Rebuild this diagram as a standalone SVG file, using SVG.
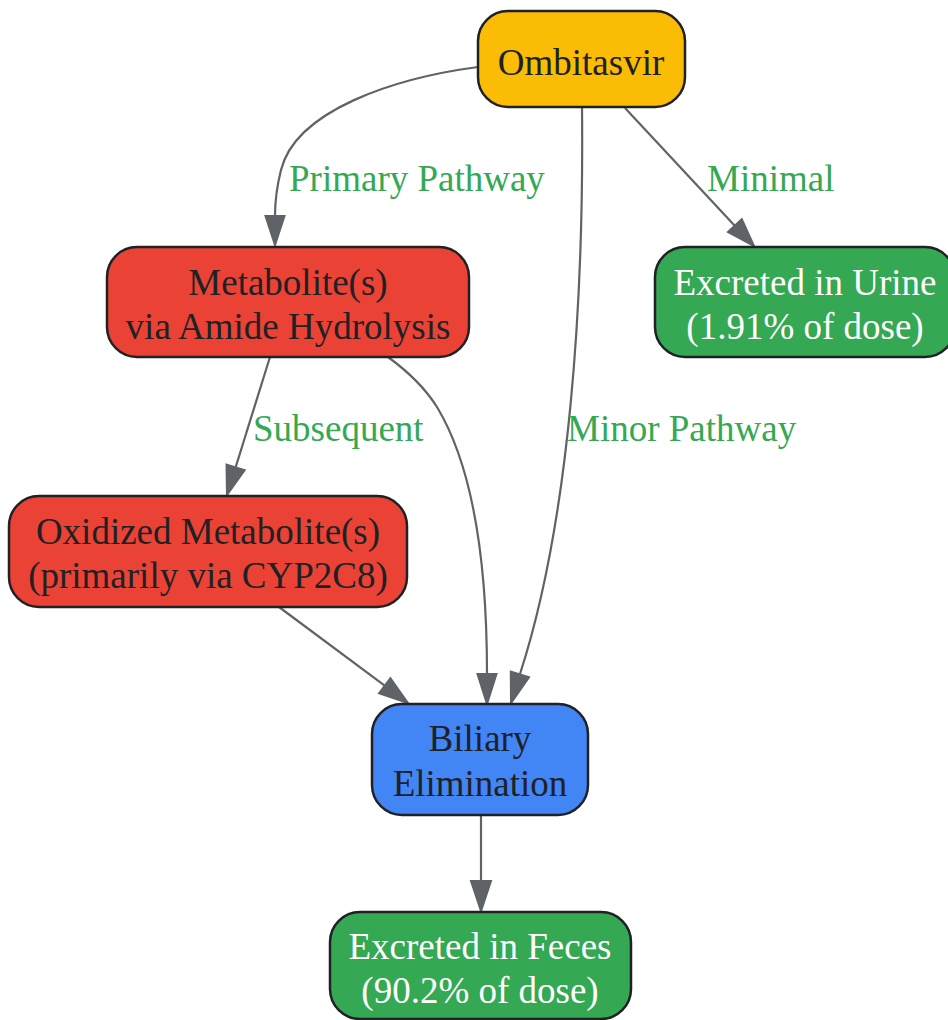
<svg xmlns="http://www.w3.org/2000/svg" width="948" height="1020" viewBox="0 0 948 1020">
<style>
.node rect{stroke:#202124;stroke-width:2.5}
.t{font-family:"Liberation Serif","Times New Roman",serif;font-size:37px;text-anchor:middle;fill:#202124}
.w{fill:#ffffff}
.lbl{font-family:"Liberation Serif","Times New Roman",serif;font-size:37px;fill:#34A853}
.edge path{fill:none;stroke:#5F6368;stroke-width:2.2}
.edge polygon{fill:#5F6368;stroke:#5F6368;stroke-width:2}
</style>
<rect width="948" height="1020" fill="#ffffff"/>
<g id="connectors">
  <g class="edge" id="e1">
    <path d="M478,67 C395,78 296,110 281,170 C276,190 275,203 275,216"/>
    <polygon points="265.5,216 284.5,216 275,245"/>
    <text class="lbl" x="289" y="191">Primary Pathway</text>
  </g>
  <g class="edge" id="e2">
    <path d="M625,108 L735,226"/>
    <polygon points="728,232 741.8,219.1 754,246"/>
    <text class="lbl" x="707" y="191">Minimal</text>
  </g>
  <g class="edge" id="e3">
    <path d="M582,107 C584,300 570,520 520,674"/>
    <polygon points="529,677.2 510.8,671.6 511,703"/>
    <text class="lbl" x="567" y="441">Minor Pathway</text>
  </g>
  <g class="edge" id="e4">
    <path d="M270,357 L235.6,467.3"/>
    <polygon points="244.7,470.1 226.5,464.5 227,495"/>
    <text class="lbl" x="253" y="441">Subsequent</text>
  </g>
  <g class="edge" id="e5">
    <path d="M388,357 C410,373 425,388 437,407 C475,470 487,570 487,674"/>
    <polygon points="477.5,674 496.5,674 487,704"/>
  </g>
  <g class="edge" id="e6">
    <path d="M279,607 L384.7,685.7"/>
    <polygon points="379,693.3 390.4,678.1 408,703"/>
  </g>
  <g class="edge" id="e7">
    <path d="M481,815 L481,881"/>
    <polygon points="471,881 491,881 481,911"/>
  </g>
</g>
<g class="node" id="ombitasvir">
  <rect x="478" y="11" width="207" height="96" rx="30" fill="#FBBC05"/>
  <text class="t" x="581" y="75">Ombitasvir</text>
</g>
<g class="node" id="metabolite">
  <rect x="107" y="247" width="362" height="110" rx="30" fill="#EA4335"/>
  <text class="t" x="288" y="295">Metabolite(s)</text>
  <text class="t" x="288" y="339">via Amide Hydrolysis</text>
</g>
<g class="node" id="urine">
  <rect x="655" y="247" width="300" height="110" rx="30" fill="#34A853"/>
  <text class="t w" x="805" y="295">Excreted in Urine</text>
  <text class="t w" x="805" y="339">(1.91% of dose)</text>
</g>
<g class="node" id="oxidized">
  <rect x="9" y="496" width="398" height="111" rx="30" fill="#EA4335"/>
  <text class="t" x="208" y="544">Oxidized Metabolite(s)</text>
  <text class="t" x="208" y="588">(primarily via CYP2C8)</text>
</g>
<g class="node" id="biliary">
  <rect x="372" y="704" width="216" height="111" rx="30" fill="#4285F4"/>
  <text class="t" x="480" y="751">Biliary</text>
  <text class="t" x="480" y="796">Elimination</text>
</g>
<g class="node" id="feces">
  <rect x="330" y="912" width="301" height="107" rx="30" fill="#34A853"/>
  <text class="t w" x="480" y="959">Excreted in Feces</text>
  <text class="t w" x="480" y="1003">(90.2% of dose)</text>
</g>
</svg>
